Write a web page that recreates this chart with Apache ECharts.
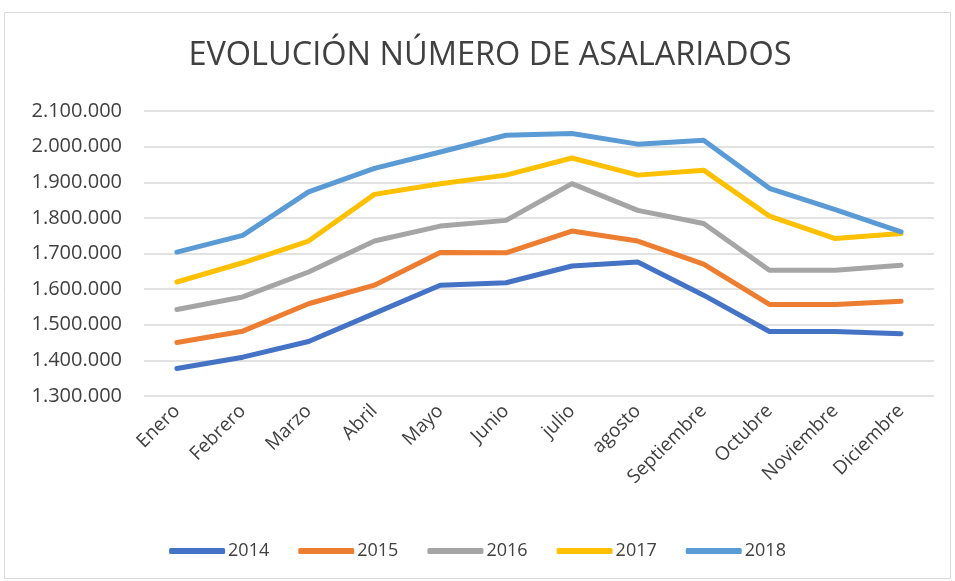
<!DOCTYPE html>
<html>
<head>
<meta charset="utf-8">
<script src="https://cdn.jsdelivr.net/npm/echarts@6/dist/echarts.min.js"></script>
<style>
  html, body { margin: 0; padding: 0; background: #fff; }
  #main { width: 955px; height: 581px; }
</style>
</head>
<body>
<div id="main"></div>
<script>
const months = ['Enero', 'Febrero', 'Marzo', 'Abril', 'Mayo', 'Junio', 'julio', 'agosto', 'Septiembre', 'Octubre', 'Noviembre', 'Diciembre'];
const years = ['2014', '2015', '2016', '2017', '2018'];
const v2014 = [1377000, 1409000, 1453000, 1532000, 1611000, 1618000, 1665000, 1676000, 1583000, 1481000, 1481000, 1475000];
const v2015 = [1450000, 1482000, 1559000, 1611000, 1703000, 1702000, 1763000, 1735000, 1670000, 1557000, 1557000, 1566000];
const v2016 = [1543000, 1578000, 1648000, 1735000, 1777000, 1793000, 1896000, 1821000, 1784000, 1653000, 1653000, 1667000];
const v2017 = [1620000, 1674000, 1735000, 1866000, 1896000, 1920000, 1968000, 1920000, 1934000, 1805000, 1742000, 1756000];
const v2018 = [1704000, 1751000, 1873000, 1939000, 1985000, 2032000, 2037000, 2007000, 2018000, 1883000, 1823000, 1761000];
const colors = ['#4472C4', '#ED7D31', '#A5A5A5', '#FFC000', '#5B9BD5'];

const seriesData = [v2014, v2015, v2016, v2017, v2018];

function fmt(v) {
  return String(v).replace(/\B(?=(\d{3})+(?!\d))/g, '.');
}

const myChart = echarts.init(document.getElementById('main'));
const font = 'Open Sans';

const option = {
  color: colors,
  animation: false,
  graphic: [{
    type: 'rect',
    shape: { x: 4.5, y: 12.5, width: 946, height: 566 },
    style: { fill: 'none', stroke: '#d9d9d9', lineWidth: 1 }
  }],
  title: {
    text: 'EVOLUCIÓN NÚMERO DE ASALARIADOS',
    left: 485,
    textAlign: 'center',
    top: 34,
    textStyle: { fontFamily: font, fontSize: 32.5, fontWeight: 'normal', color: '#404040' }
  },
  legend: {
    bottom: 16,
    left: 'center',
    itemWidth: 56,
    itemHeight: 6,
    itemGap: 29,
    icon: 'roundRect',
    textStyle: { fontFamily: font, fontSize: 18, color: '#404040', padding: [0, 0, 0, -2] },
    data: years
  },
  grid: { left: 144, right: 21, top: 111, bottom: 185 },
  xAxis: {
    type: 'category',
    data: months,
    boundaryGap: true,
    axisLine: { show: false },
    axisTick: { show: false },
    axisLabel: { rotate: 45, fontFamily: font, fontSize: 19, color: '#404040', margin: 12, interval: 0 }
  },
  yAxis: {
    type: 'value',
    min: 1300000,
    max: 2100000,
    interval: 100000,
    axisLine: { show: false },
    axisTick: { show: false },
    splitLine: { lineStyle: { color: '#d9d9d9', width: 1.5 } },
    axisLabel: { fontFamily: font, fontSize: 20, color: '#404040', margin: 22, formatter: fmt }
  },
  series: years.map((y, i) => ({
    name: y,
    type: 'line',
    data: seriesData[i],
    symbol: 'none',
    lineStyle: { width: 5, cap: 'round', join: 'round' }
  }))
};

myChart.setOption(option);
</script>
</body>
</html>
